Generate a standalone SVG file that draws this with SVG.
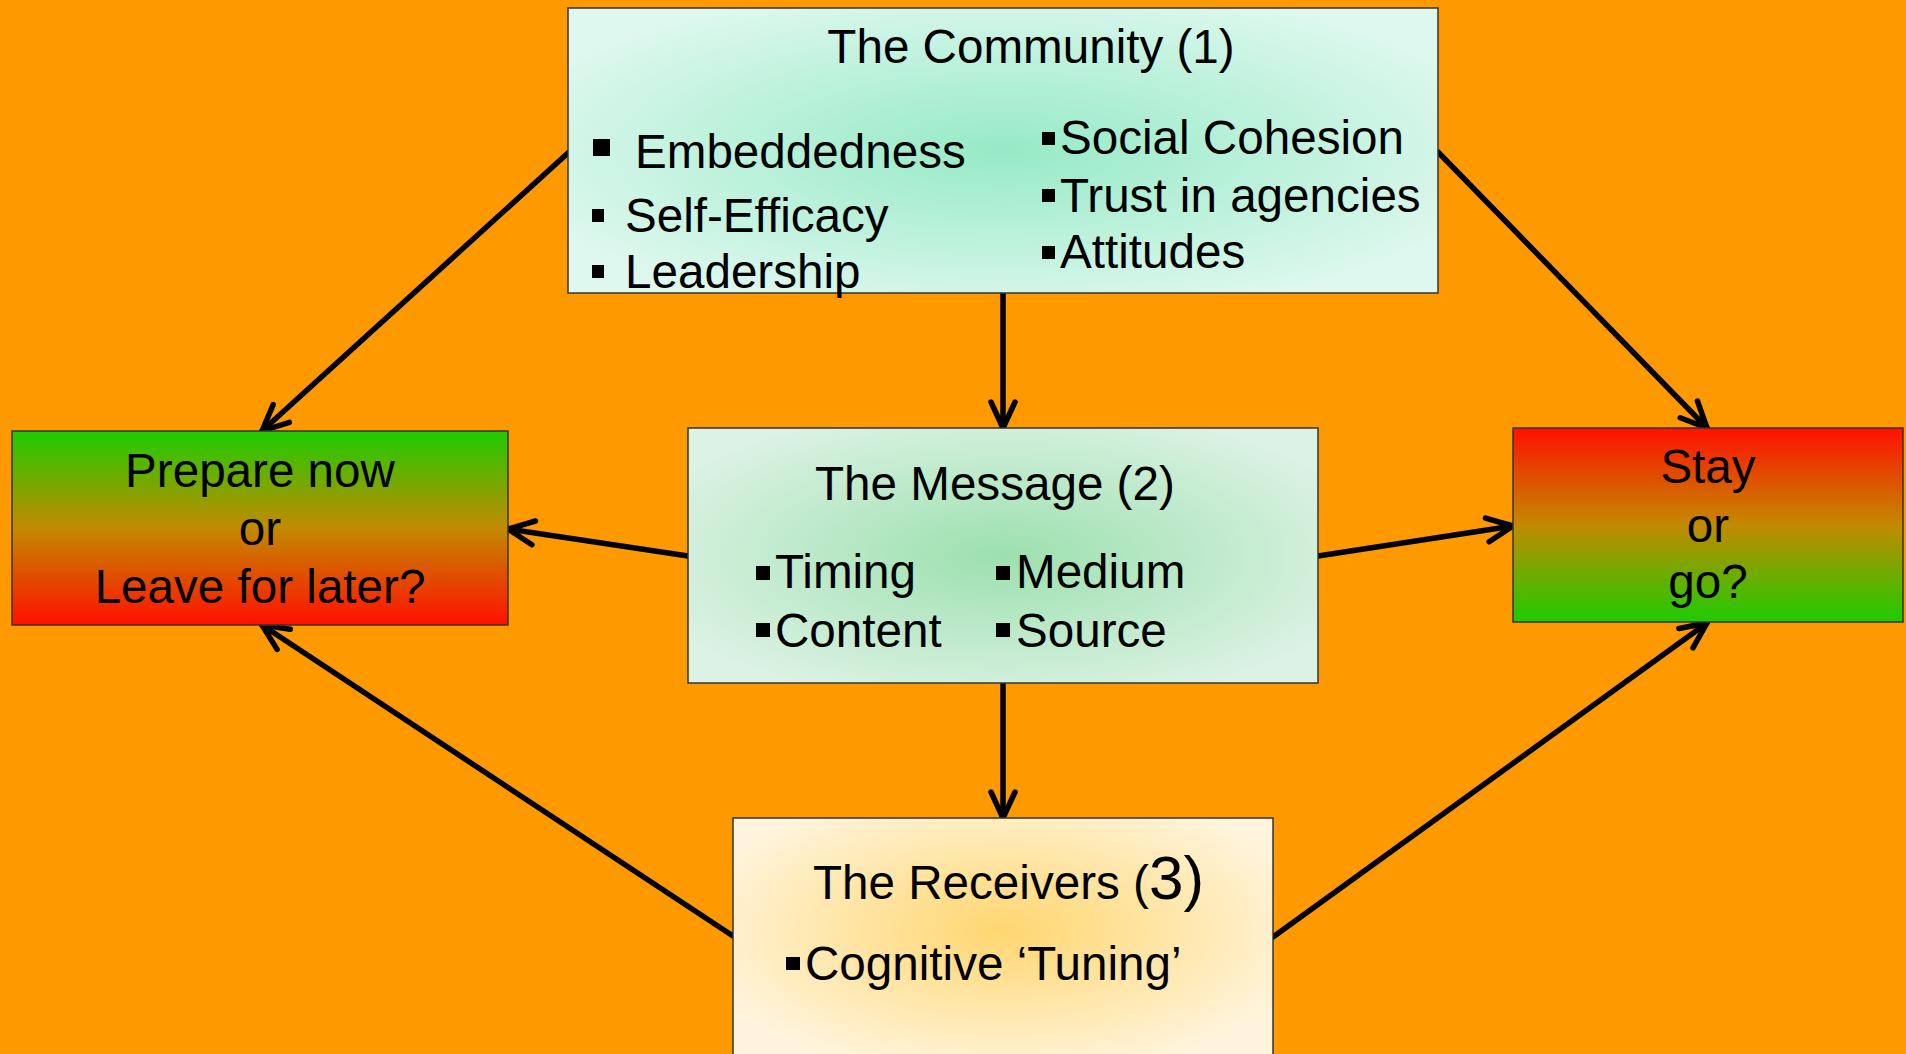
<svg xmlns="http://www.w3.org/2000/svg" width="1906" height="1054" viewBox="0 0 1906 1054">
<defs>
<style>
.t{font-family:"Liberation Sans",Arial,sans-serif;font-size:47.6px;fill:#000}
.c{text-anchor:middle}
.box{stroke:#333;stroke-width:1.5}
.con{stroke:#000;stroke-width:5.5;fill:none;stroke-linecap:round}
.b{fill:#000}
</style>
<marker id="ah" markerUnits="userSpaceOnUse" markerWidth="60" markerHeight="60" refX="0" refY="0" orient="auto" overflow="visible">
<path d="M-26,-12 L0,0 L-26,12" fill="none" stroke="#000" stroke-width="5.5" stroke-linecap="round" stroke-linejoin="round"/>
</marker>
<radialGradient id="gCom" cx="0.5" cy="0.5" r="0.6">
<stop offset="0" stop-color="#96eac6"/>
<stop offset="1" stop-color="#dff8ef"/>
</radialGradient>
<radialGradient id="gMsg" cx="0.5" cy="0.5" r="0.6">
<stop offset="0" stop-color="#9ce0ae"/>
<stop offset="1" stop-color="#dcf2e4"/>
</radialGradient>
<radialGradient id="gRec" cx="0.5" cy="0.45" r="0.6">
<stop offset="0" stop-color="#ffd670"/>
<stop offset="1" stop-color="#fff5df"/>
</radialGradient>
<linearGradient id="gGR" x1="0" y1="0" x2="0" y2="1">
<stop offset="0" stop-color="#1ecc00"/>
<stop offset="0.5" stop-color="#c28a00"/>
<stop offset="1" stop-color="#ff1000"/>
</linearGradient>
<linearGradient id="gRG" x1="0" y1="0" x2="0" y2="1">
<stop offset="0" stop-color="#ff1000"/>
<stop offset="0.5" stop-color="#c28a00"/>
<stop offset="1" stop-color="#1ecc00"/>
</linearGradient>
</defs>
<rect x="0" y="0" width="1906" height="1054" fill="#ff9900"/>
<g id="connectors">
<line class="con" x1="569" y1="152" x2="262" y2="431" marker-end="url(#ah)"/>
<line class="con" x1="1003" y1="293" x2="1003" y2="428" marker-end="url(#ah)"/>
<line class="con" x1="1438" y1="152" x2="1707" y2="428" marker-end="url(#ah)"/>
<line class="con" x1="688" y1="556" x2="508" y2="529" marker-end="url(#ah)"/>
<line class="con" x1="1318" y1="556" x2="1513" y2="526" marker-end="url(#ah)"/>
<line class="con" x1="1003" y1="683" x2="1003" y2="818" marker-end="url(#ah)"/>
<line class="con" x1="733" y1="936" x2="262" y2="625" marker-end="url(#ah)"/>
<line class="con" x1="1273" y1="937" x2="1707" y2="623" marker-end="url(#ah)"/>
</g>
<g id="community">
<rect class="box" x="568" y="8" width="870" height="285" fill="url(#gCom)"/>
<text class="t c" x="1031" y="63">The Community (1)</text>
<rect class="b" x="593" y="139" width="17" height="17"/>
<text class="t" x="635" y="168">Embeddedness</text>
<rect class="b" x="592" y="209" width="12" height="13"/>
<text class="t" x="625" y="232">Self-Efficacy</text>
<rect class="b" x="592" y="265" width="12" height="13"/>
<text class="t" x="625" y="288">Leadership</text>
<rect class="b" x="1042" y="132" width="13" height="13"/>
<text class="t" x="1060" y="154">Social Cohesion</text>
<rect class="b" x="1042" y="189" width="13" height="13"/>
<text class="t" x="1060" y="212">Trust in agencies</text>
<rect class="b" x="1042" y="246" width="13" height="13"/>
<text class="t" x="1060" y="268">Attitudes</text>
</g>
<g id="message">
<rect class="box" x="688" y="428" width="630" height="255" fill="url(#gMsg)"/>
<text class="t" x="815" y="500">The Message (2)</text>
<rect class="b" x="756" y="566" width="14" height="14"/>
<text class="t" x="775" y="588">Timing</text>
<rect class="b" x="756" y="623" width="14" height="14"/>
<text class="t" x="775" y="647">Content</text>
<rect class="b" x="996" y="566" width="14" height="14"/>
<text class="t" x="1016" y="588">Medium</text>
<rect class="b" x="996" y="623" width="14" height="14"/>
<text class="t" x="1016" y="647">Source</text>
</g>
<g id="prepare">
<rect class="box" x="12" y="431" width="496" height="194" fill="url(#gGR)"/>
<text class="t c" x="260" y="487">Prepare now</text>
<text class="t c" x="260" y="545">or</text>
<text class="t c" x="260" y="603">Leave for later?</text>
</g>
<g id="stay">
<rect class="box" x="1513" y="428" width="390" height="194" fill="url(#gRG)"/>
<text class="t c" x="1708" y="483">Stay</text>
<text class="t c" x="1708" y="542">or</text>
<text class="t c" x="1708" y="598">go?</text>
</g>
<g id="receivers">
<rect class="box" x="733" y="818" width="540" height="250" fill="url(#gRec)"/>
<text class="t" x="813" y="899">The Receivers (<tspan font-size="62">3)</tspan></text>
<rect class="b" x="786" y="957" width="14" height="13"/>
<text class="t" x="805" y="980">Cognitive ‘Tuning’</text>
</g>
</svg>
